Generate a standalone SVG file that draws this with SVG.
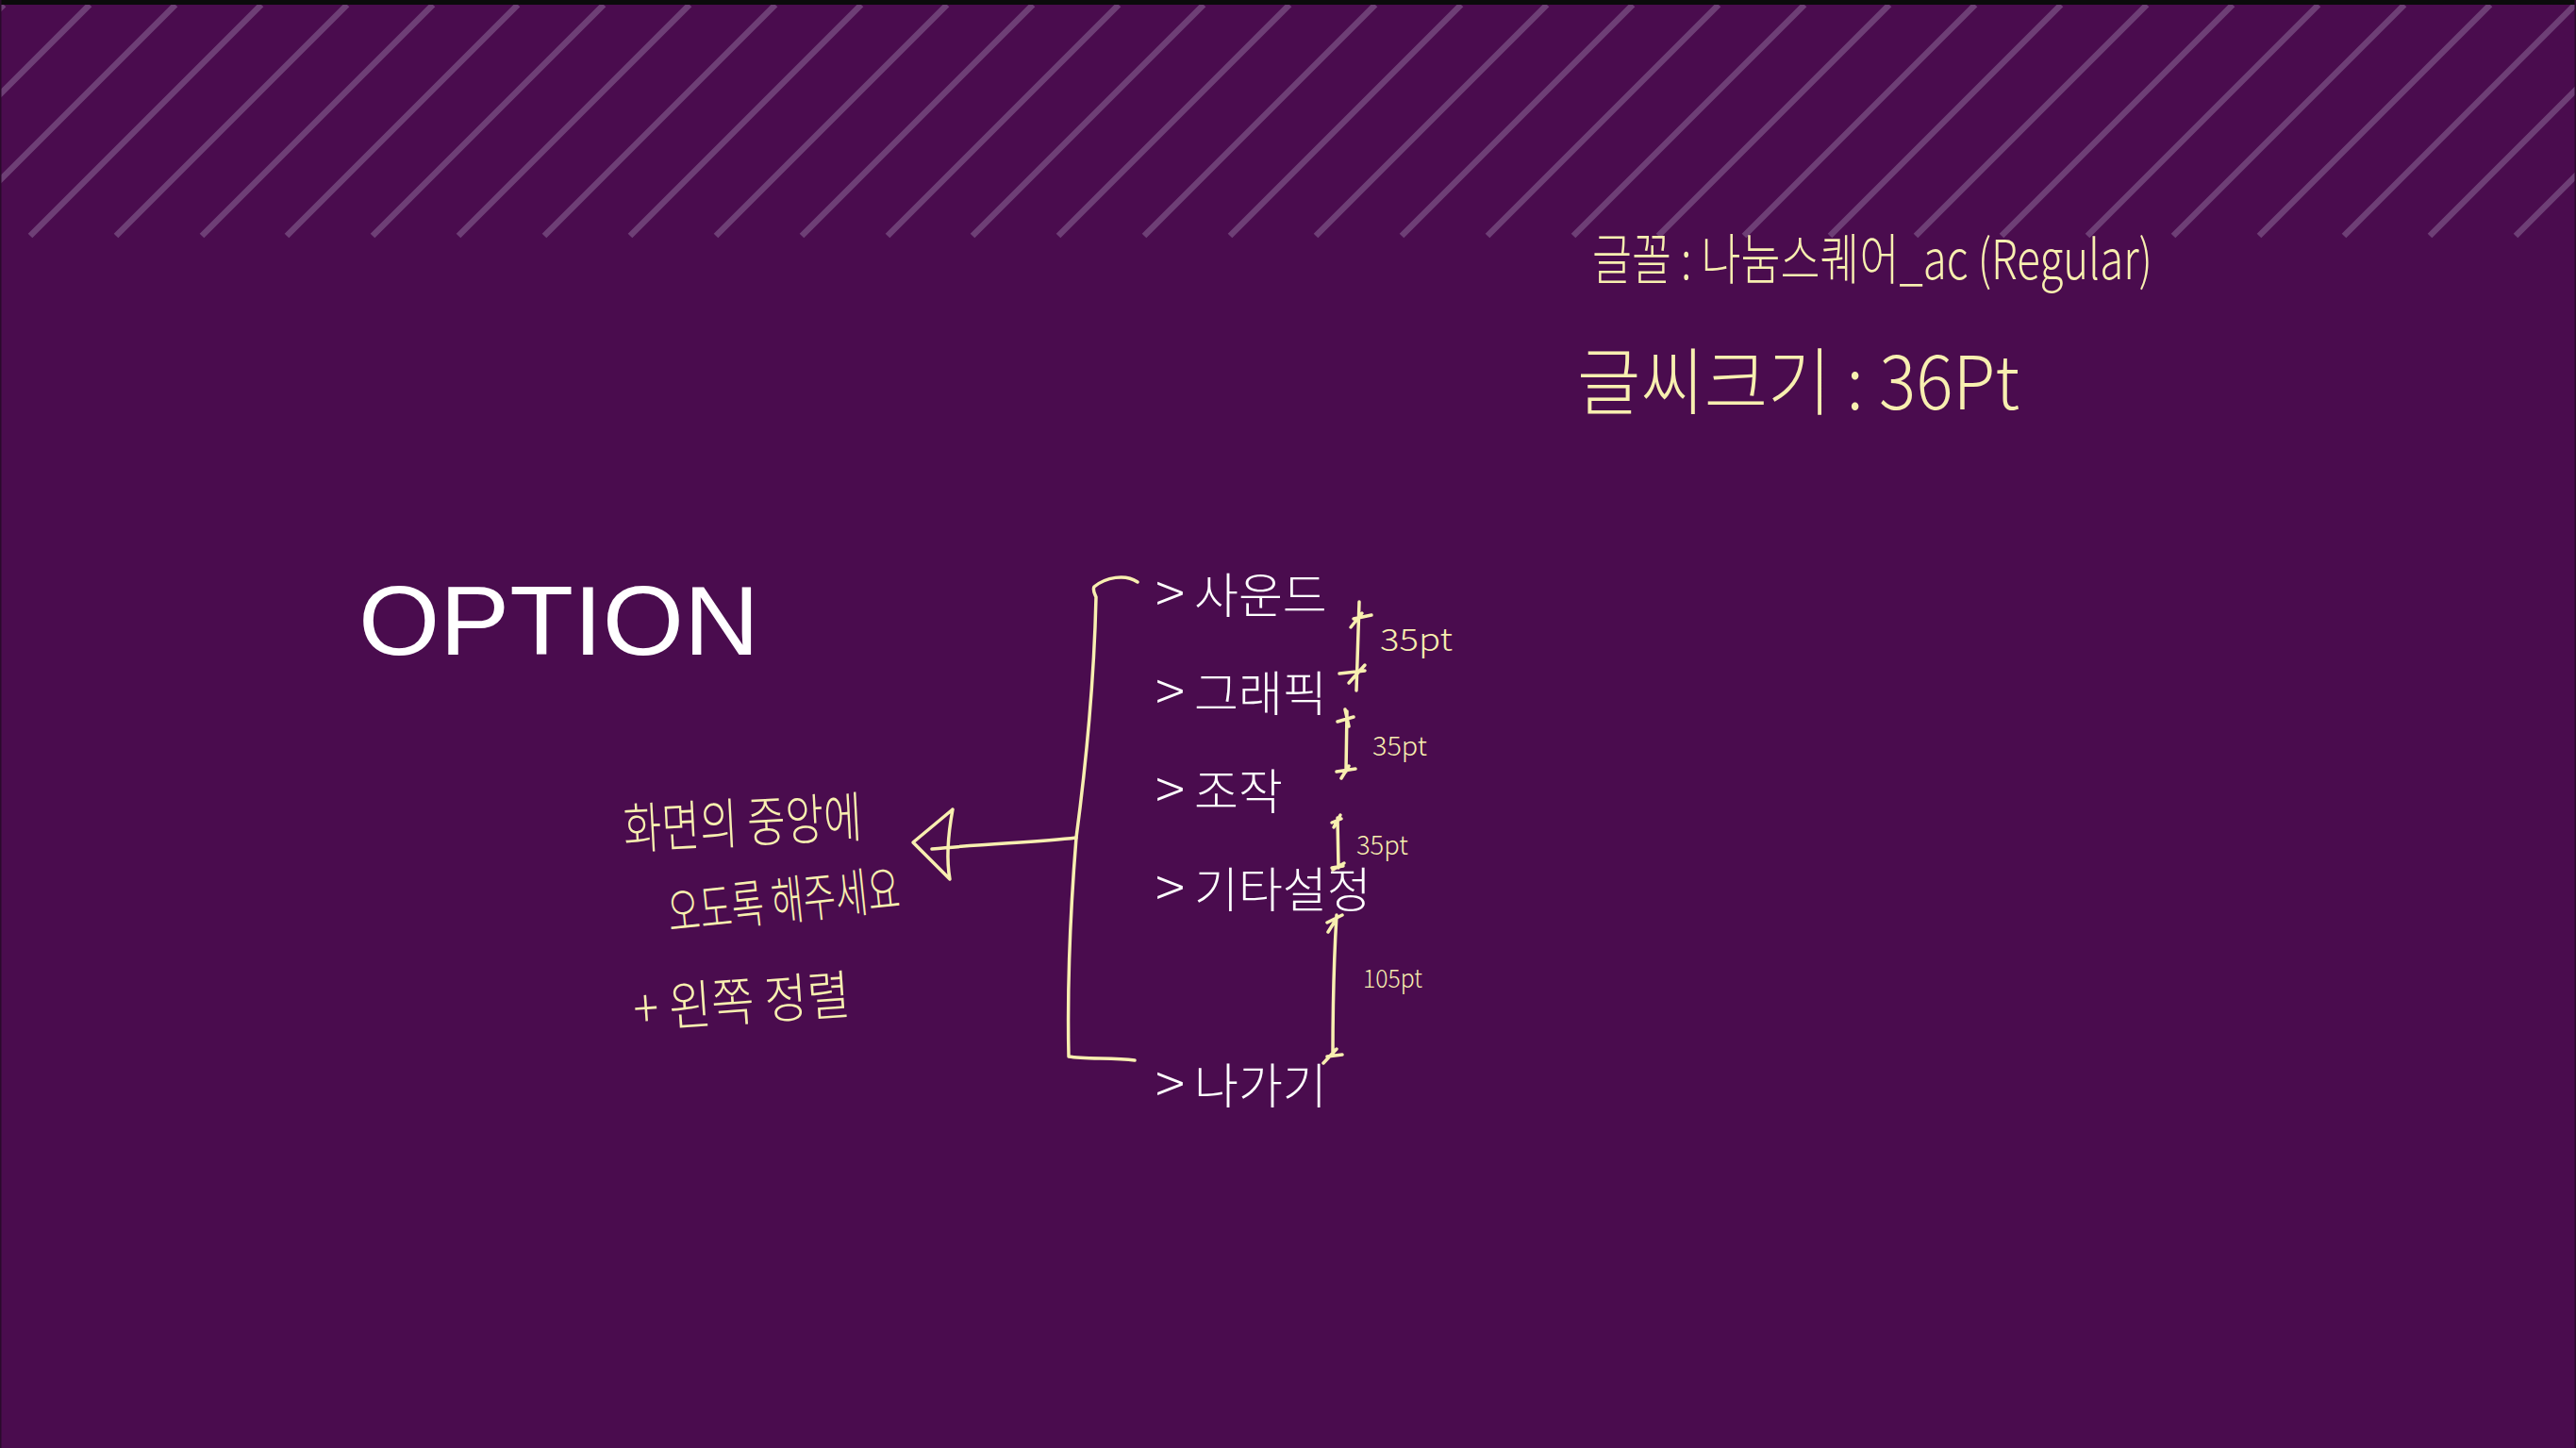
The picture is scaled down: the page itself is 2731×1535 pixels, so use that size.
<svg xmlns="http://www.w3.org/2000/svg" width="2731" height="1535" viewBox="0 0 2731 1535">
  <defs>
    <style>
      .bg { fill: #4a0c4e; }
      .stripe { stroke: #6e3f76; stroke-width: 6.5; stroke-linecap: butt; fill: none; }
      .menu { font-family: "Noto Sans CJK KR", "Noto Sans", sans-serif; font-size: 51px; font-weight: 300; fill: #ffffff; }
      .gt { font-size: 58px; font-weight: 300; }
      .title { font-family: "Liberation Sans", Arial, sans-serif; font-size: 104px; fill: #ffffff; }
      .note { font-family: "Noto Sans CJK KR", "Noto Sans", sans-serif; font-weight: 300; fill: #f8efb0; }
      .pen { stroke: #f8efb0; stroke-width: 3.5; fill: none; stroke-linecap: round; stroke-linejoin: round; }
    </style>
    <clipPath id="band">
      <rect x="0" y="5" width="2731" height="260"/>
    </clipPath>
  </defs>

  <rect class="bg" x="0" y="0" width="2731" height="1535"/>

  <g id="stripes" clip-path="url(#band)">
    <path class="stripe" d="M-241,250 L4,5 M-150,250 L95,5 M-59,250 L186,5 M32,250 L277,5 M123,250 L368,5 M214,250 L459,5 M304,250 L549,5 M395,250 L640,5 M486,250 L731,5 M577,250 L822,5 M668,250 L913,5 M759,250 L1004,5 M850,250 L1095,5 M941,250 L1186,5 M1031,250 L1276,5 M1122,250 L1367,5 M1213,250 L1458,5 M1304,250 L1549,5 M1395,250 L1640,5 M1486,250 L1731,5 M1577,250 L1822,5 M1668,250 L1913,5 M1758,250 L2003,5 M1849,250 L2094,5 M1940,250 L2185,5 M2031,250 L2276,5 M2122,250 L2367,5 M2213,250 L2458,5 M2304,250 L2549,5 M2395,250 L2640,5 M2485,250 L2730,5 M2576,250 L2821,5 M2667,250 L2912,5"/>
  </g>

  <rect x="0" y="0" width="2731" height="5" fill="#0b0b0b"/>
  <rect x="0" y="0" width="1.5" height="1535" fill="#2a0a2c"/>
  <rect x="2729.5" y="0" width="1.5" height="1535" fill="#2a0a2c"/>

  <g id="title">
    <text class="title" x="380" y="694" textLength="425" lengthAdjust="spacingAndGlyphs">OPTION</text>
  </g>

  <g id="menu-sound">
    <text class="menu" x="1225" y="650"><tspan class="gt">&gt;</tspan><tspan x="1266">사운드</tspan></text>
  </g>
  <g id="menu-graphic">
    <text class="menu" x="1225" y="754"><tspan class="gt">&gt;</tspan><tspan x="1266">그래픽</tspan></text>
  </g>
  <g id="menu-control">
    <text class="menu" x="1225" y="858"><tspan class="gt">&gt;</tspan><tspan x="1266">조작</tspan></text>
  </g>
  <g id="menu-etc">
    <text class="menu" x="1225" y="962"><tspan class="gt">&gt;</tspan><tspan x="1266">기타설정</tspan></text>
  </g>
  <g id="menu-exit">
    <text class="menu" x="1225" y="1170"><tspan class="gt">&gt;</tspan><tspan x="1266">나가기</tspan></text>
  </g>

  <g id="note-font">
    <text class="note" x="1688" y="296" font-size="58" textLength="594" lengthAdjust="spacingAndGlyphs">글꼴 : 나눔스퀘어_ac (Regular)</text>
  </g>
  <g id="note-size">
    <text class="note" x="1672" y="434" font-size="78" textLength="469" lengthAdjust="spacingAndGlyphs">글씨크기 : 36Pt</text>
  </g>
  <g id="note-center">
    <text class="note" font-size="58" x="662" y="900" textLength="253" lengthAdjust="spacingAndGlyphs" transform="rotate(-3 662 900)">화면의 중앙에</text>
    <text class="note" font-size="56" x="710" y="988" textLength="247" lengthAdjust="spacingAndGlyphs" transform="rotate(-6 710 988)">오도록 해주세요</text>
    <text class="note" font-size="56" x="673" y="1090" textLength="230" lengthAdjust="spacingAndGlyphs" transform="rotate(-4 673 1090)">+ 왼쪽 정렬</text>
  </g>

  <g id="dim-labels">
    <text class="note" font-size="33" x="1463" y="690" textLength="77" lengthAdjust="spacingAndGlyphs">35pt</text>
    <text class="note" font-size="28" x="1455" y="801" textLength="58" lengthAdjust="spacingAndGlyphs">35pt</text>
    <text class="note" font-size="28" x="1438" y="906" textLength="55" lengthAdjust="spacingAndGlyphs">35pt</text>
    <text class="note" font-size="27" x="1445" y="1047" textLength="63" lengthAdjust="spacingAndGlyphs">105pt</text>
  </g>

  <g id="connectors">
    <path class="pen" d="M1206,617 C1193,608 1172,612 1160,622 C1158,626 1161,630 1162,633 C1160,720 1150,820 1141,888 C1136,950 1131,1030 1133,1120 C1150,1123 1180,1121 1203,1124"/>
    <path class="pen" d="M1141,888 C1100,893 1050,894 988,900"/>
    <path class="pen" d="M1010,858 L968,893 L1007,932 C1003,910 1005,885 1010,858"/>
    <path class="pen" d="M1441,638 L1438,732 M1432,665 L1444,650 M1435,656 L1454,652 M1420,714 L1447,711 M1430,724 L1447,705"/>
    <path class="pen" d="M1428,754 L1427,818 M1418,765 L1435,760 M1426,752 L1430,770 M1417,818 L1437,815 M1422,825 L1430,812"/>
    <path class="pen" d="M1418,867 L1419,920 M1412,872 L1422,868 M1414,877 L1421,864 M1413,922 L1425,915 M1412,920 L1424,918"/>
    <path class="pen" d="M1417,970 C1414,1020 1413,1070 1413,1118 M1407,978 L1423,970 M1408,988 L1418,972 M1407,1120 L1423,1118 M1403,1127 L1417,1112"/>
  </g>
</svg>
